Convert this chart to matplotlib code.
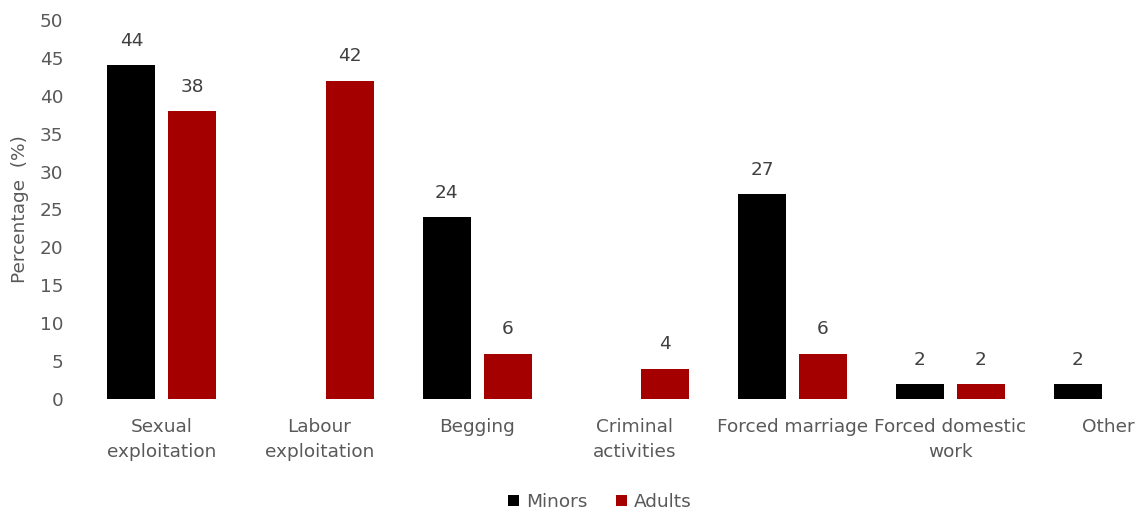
import numpy as np
import matplotlib.pyplot as plt

categories = ["Sexual\nexploitation", "Labour\nexploitation", "Begging",
              "Criminal\nactivities", "Forced marriage", "Forced domestic\nwork", "Other"]
minors = [44, 0, 24, 0, 27, 2, 2]
adults = [38, 42, 6, 4, 6, 2, 0]

plt.rcParams['font.family'] = ['DejaVu Sans']
tick_col = '#595959'
lab_col = '#404040'
fs = 13.3

fig = plt.figure(figsize=(11.39, 5.12), dpi=100)
ax = fig.add_axes([83 / 1139, 1 - 399 / 512, (1139 - 83) / 1139, (399 - 20) / 512])

x = np.arange(len(categories))
w = 0.304
off = 0.193
b1 = ax.bar(x - off, minors, w, color='#000000', label='Minors')
b2 = ax.bar(x + off, adults, w, color='#A50000', label='Adults')

# value labels, only for bars that exist
for bars, vals in ((b1, minors), (b2, adults)):
    for r, v in zip(bars, vals):
        if v == 0:
            continue
        ax.annotate(str(v), (r.get_x() + r.get_width() / 2, v), xytext=(0, 11),
                    textcoords='offset points', ha='center', va='bottom',
                    fontsize=fs, color=lab_col)

ax.set_ylim(0, 50)
ax.set_yticks(range(0, 51, 5))
ax.set_xlim(-0.5, -0.5 + (1139 - 83) / 157.7)
ax.set_xticks(x)
ax.set_xticklabels(categories, fontsize=fs, color=tick_col, linespacing=1.45)
ax.tick_params(axis='y', labelsize=fs, labelcolor=tick_col, length=0, pad=14)
ax.tick_params(axis='x', length=0, pad=14)
for s in ax.spines.values():
    s.set_visible(False)
ax.set_ylabel('Percentage  (%)', fontsize=fs, color=tick_col, labelpad=8)

fig.legend(handles=[b1, b2], loc='center', bbox_to_anchor=(600 / 1139, 1 - 502 / 512),
           ncol=2, frameon=False, fontsize=fs, labelcolor=tick_col,
           handlelength=0.6, handleheight=0.6, handletextpad=0.4, columnspacing=1.5)

fig.savefig('out.png', dpi=100)
